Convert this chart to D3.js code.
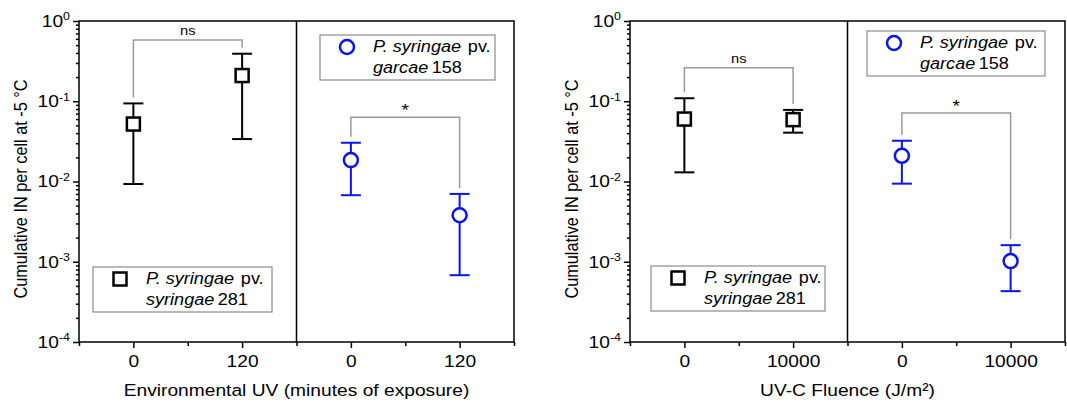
<!DOCTYPE html>
<html lang="en">
<head>
<meta charset="UTF-8">
<title>Cumulative IN per cell at -5 °C</title>
<script src="https://d3js.org/d3.v7.min.js"></script>
<style>
  body { margin: 0; background: #fff; }
  svg { display: block; font-family: 'Liberation Sans', Arial, sans-serif; }
</style>
</head>
<body>
<svg id="chart" width="1067" height="406"></svg>
<script>
// categories (x tick labels)
const envCategories = ['0', '120'];
const uvcCategories = ['0', '10000'];
const yTicks = [1e-4, 1e-3, 1e-2, 1e-1, 1];

// Environmental UV: P. syringae pv. syringae 281 (black squares)
const envPss281Mean = [0.052, 0.209];
const envPss281Low = [0.0093, 0.0338];
const envPss281High = [0.094, 0.391];
// Environmental UV: P. syringae pv. garcae 158 (blue circles)
const envPsg158Mean = [0.0185, 0.0038];
const envPsg158Low = [0.00675, 0.00068];
const envPsg158High = [0.0304, 0.0070];

// UV-C: P. syringae pv. syringae 281
const uvcPss281Mean = [0.060, 0.059];
const uvcPss281Low = [0.013, 0.0406];
const uvcPss281High = [0.109, 0.078];
// UV-C: P. syringae pv. garcae 158
const uvcPsg158Mean = [0.0209, 0.00102];
const uvcPsg158Low = [0.0094, 0.00043];
const uvcPsg158High = [0.0322, 0.00161];

// significance labels and bracket levels (data units)
const envSigLabels = ['ns', '*'];
const envSigLevels = [0.58, 0.063];
const uvcSigLabels = ['ns', '*'];
const uvcSigLevels = [0.262, 0.0715];

const svg = d3.select('#chart');
const plotTop = 21;
const plotBottom = 342;
const blue = '#0a14f0';
const SX = 1.13; // text in the figure is a bit wide

// widen text horizontally around its own anchor point
function stretch(sel) {
  sel.each(function() {
    const t = d3.select(this);
    const x = +t.attr('x') || 0, y = +t.attr('y') || 0;
    t.attr('transform', `translate(${x},${y}) scale(${SX},1) translate(${-x},${-y})`);
  });
}

const panels = [
  {
    left: 79, right: 514, yTitleX: 27, cats: envCategories,
    xTitle: 'Environmental UV (minutes of exposure)',
    pss: {mean: envPss281Mean, low: envPss281Low, high: envPss281High},
    psg: {mean: envPsg158Mean, low: envPsg158Low, high: envPsg158High},
    sigLabels: envSigLabels, sigLevels: envSigLevels,
    legPss: {x: 93, y: 267, w: 179}, legPsg: {x: 320, y: 35, w: 175}
  },
  {
    left: 630, right: 1065, yTitleX: 578, cats: uvcCategories,
    xTitle: 'UV-C Fluence (J/m\u00B2)',
    pss: {mean: uvcPss281Mean, low: uvcPss281Low, high: uvcPss281High},
    psg: {mean: uvcPsg158Mean, low: uvcPsg158Low, high: uvcPsg158High},
    sigLabels: uvcSigLabels, sigLevels: uvcSigLevels,
    legPss: {x: 651, y: 266, w: 174}, legPsg: {x: 867, y: 31, w: 178}
  }
];

const styleAxis = s => s
  .attr('font-size', 17)
  .attr('font-family', null)
  .call(s => s.select('.domain').remove())
  .call(s => s.selectAll('.tick line').attr('stroke-width', 1.5))
  .call(s => s.selectAll('.tick text').call(stretch));

function drawPanel(p) {
  const x = d3.scaleLinear().domain([-0.5, 3.5]).range([p.left, p.right]);
  const y = d3.scaleLog().domain([1e-4, 1]).range([plotBottom, plotTop]);
  const g = svg.append('g');

  const minor = y.ticks().filter(v => Math.abs(Math.log10(v) - Math.round(Math.log10(v))) > 1e-6);

  // y axis
  g.append('g')
    .attr('transform', `translate(${p.left},0)`)
    .call(d3.axisLeft(y).tickValues(minor).tickSize(3).tickFormat(''))
    .call(styleAxis);
  g.append('g')
    .attr('transform', `translate(${p.left},0)`)
    .call(d3.axisLeft(y).tickValues(yTicks).tickSize(6).tickPadding(3).tickFormat(() => '10'))
    .call(styleAxis)
    .call(s => s.selectAll('.tick text').append('tspan')
      .attr('dy', '-0.6em').attr('font-size', 11)
      .text(d => Math.round(Math.log10(d))));

  // x axis
  g.append('g')
    .attr('transform', `translate(0,${plotBottom})`)
    .call(d3.axisBottom(x).tickValues([-0.5, 0.5, 1.5, 2.5, 3.5]).tickSize(4).tickFormat(''))
    .call(styleAxis);
  g.append('g')
    .attr('transform', `translate(0,${plotBottom})`)
    .call(d3.axisBottom(x).tickValues([0, 1, 2, 3]).tickSize(6).tickPadding(7).tickFormat(i => p.cats[i % 2]))
    .call(styleAxis);

  // frame + divider
  g.append('rect')
    .attr('x', p.left).attr('y', plotTop)
    .attr('width', p.right - p.left).attr('height', plotBottom - plotTop)
    .attr('fill', 'none').attr('stroke', '#000').attr('stroke-width', 1.5);
  g.append('line')
    .attr('x1', x(1.5)).attr('x2', x(1.5))
    .attr('y1', plotTop).attr('y2', plotBottom)
    .attr('stroke', '#000').attr('stroke-width', 1.5);

  // titles
  g.append('text')
    .attr('x', (p.left + p.right) / 2).attr('y', 396)
    .attr('text-anchor', 'middle').attr('font-size', 17)
    .text(p.xTitle)
    .call(stretch);
  g.append('text')
    .attr('transform', `translate(${p.yTitleX},189) scale(${SX},1) rotate(-90)`)
    .attr('text-anchor', 'middle').attr('font-size', 16.3)
    .text('Cumulative IN per cell at -5 \u00B0C');

  const series = [
    {d: p.pss, offset: 0, color: '#000', shape: 'square'},
    {d: p.psg, offset: 2, color: blue, shape: 'circle'}
  ];

  // significance brackets
  series.forEach((s, k) => {
    const x0 = x(s.offset), x1 = x(s.offset + 1);
    const lvl = y(p.sigLevels[k]);
    g.append('path')
      .attr('d', `M${x0},${y(s.d.high[0]) - 6}V${lvl}H${x1}V${y(s.d.high[1]) - 6}`)
      .attr('fill', 'none').attr('stroke', '#9a9a9a').attr('stroke-width', 1.5);
    const isStar = p.sigLabels[k] === '*';
    g.append('text')
      .attr('x', (x0 + x1) / 2).attr('y', lvl - (isStar ? 1 : 5))
      .attr('text-anchor', 'middle').attr('font-size', isStar ? 17 : 13)
      .text(p.sigLabels[k])
      .call(stretch);
  });

  // error bars and markers
  series.forEach(s => {
    const pts = s.d.mean.map((m, i) => ({i, m, lo: s.d.low[i], hi: s.d.high[i]}));
    const eg = g.append('g').attr('stroke', s.color).attr('stroke-width', 2).attr('fill', 'none');
    eg.selectAll('.whisker').data(pts).join('line')
      .attr('x1', d => x(d.i + s.offset)).attr('x2', d => x(d.i + s.offset))
      .attr('y1', d => y(d.lo)).attr('y2', d => y(d.hi));
    eg.selectAll('.capLo').data(pts).join('line')
      .attr('x1', d => x(d.i + s.offset) - 10).attr('x2', d => x(d.i + s.offset) + 10)
      .attr('y1', d => y(d.lo)).attr('y2', d => y(d.lo));
    eg.selectAll('.capHi').data(pts).join('line')
      .attr('x1', d => x(d.i + s.offset) - 10).attr('x2', d => x(d.i + s.offset) + 10)
      .attr('y1', d => y(d.hi)).attr('y2', d => y(d.hi));
    const mg = g.append('g').attr('stroke', s.color).attr('stroke-width', 2.5).attr('fill', '#fff');
    if (s.shape === 'square') {
      mg.selectAll('rect').data(pts).join('rect')
        .attr('x', d => x(d.i + s.offset) - 6.5).attr('y', d => y(d.m) - 6.5)
        .attr('width', 13).attr('height', 13);
    } else {
      mg.selectAll('circle').data(pts).join('circle')
        .attr('cx', d => x(d.i + s.offset)).attr('cy', d => y(d.m)).attr('r', 7);
    }
  });

  // legends
  drawLegend(g, p.legPss, 'square', '#000', 'syringae', '281');
  drawLegend(g, p.legPsg, 'circle', blue, 'garcae', '158');
}

function drawLegend(g, L, shape, color, pv, strain) {
  const lg = g.append('g').attr('transform', `translate(${L.x},${L.y})`);
  lg.append('rect').attr('width', L.w).attr('height', 45)
    .attr('fill', '#fff').attr('stroke', '#8c8c8c').attr('stroke-width', 1.2);
  if (shape === 'square') {
    lg.append('rect').attr('x', 27 - 6.5).attr('y', 12 - 6.5).attr('width', 13).attr('height', 13)
      .attr('fill', '#fff').attr('stroke', color).attr('stroke-width', 2.5);
  } else {
    lg.append('circle').attr('cx', 27).attr('cy', 12).attr('r', 7)
      .attr('fill', '#fff').attr('stroke', color).attr('stroke-width', 2.5);
  }
  const t1 = lg.append('text').attr('x', 53).attr('y', 17).attr('font-size', 16);
  t1.append('tspan').attr('font-style', 'italic').text('P. syringae');
  t1.append('tspan').attr('dx', 6).text('pv.');
  t1.call(stretch);
  const t2 = lg.append('text').attr('x', 53).attr('y', 38).attr('font-size', 16);
  t2.append('tspan').attr('font-style', 'italic').text(pv);
  t2.append('tspan').attr('dx', 3).text(strain);
  t2.call(stretch);
}

panels.forEach(drawPanel);
</script>
</body>
</html>
